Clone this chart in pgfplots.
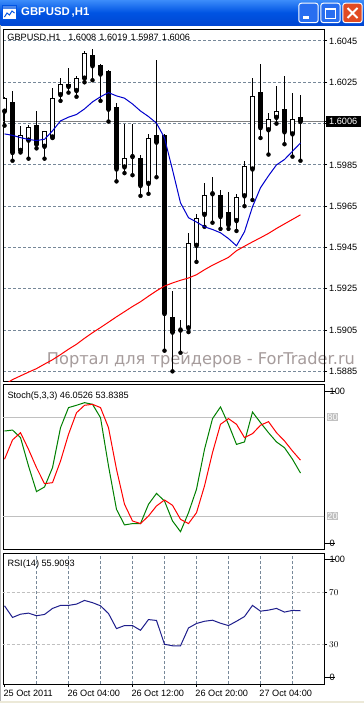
\documentclass[border=0pt]{standalone}
\usepackage{graphicx}
\usepackage{pgfplots}
\pgfplotsset{compat=1.18}
\usepackage{pgfplotstable}
\usepackage{fontspec}
\setmainfont{Liberation Sans}
\newfontfamily\wmfont{DejaVu Sans}
\definecolor{gridcol}{RGB}{119,136,153}
\definecolor{silv}{RGB}{192,192,192}
\definecolor{mablue}{RGB}{0,0,205}
\definecolor{stgreen}{RGB}{0,128,0}
\definecolor{rsiblue}{RGB}{30,30,140}
\definecolor{bidgray}{RGB}{128,128,128}
\definecolor{tbtop}{RGB}{60,140,250}
\definecolor{tbmid}{RGB}{0,84,227}
\definecolor{tbbot}{RGB}{0,70,210}
\definecolor{btnblue}{RGB}{40,110,240}
\definecolor{btnred}{RGB}{225,75,35}
\definecolor{xpbeige}{RGB}{236,233,216}
\definecolor{wmcol}{RGB}{166,156,156}
\newcommand\mtfont{\fontsize{9.2}{11}\selectfont}

% hourly candles, GBPUSD H1 (k = bar index, 0 = 25 Oct 2011 20:00)
\pgfplotstableread{
k O H L C
0 1.6011 1.6018 1.6004 1.6017
2 1.5992 1.6004 1.5991 1.5999
3 1.5997 1.60045 1.5988 1.6003
5 1.5994 1.6001 1.5988 1.6001
6 1.59985 1.6022 1.5998 1.6017
7 1.6019 1.6027 1.6016 1.6024
8 1.6023 1.6032 1.6020 1.6024
9 1.6021 1.6028 1.6018 1.6027
10 1.6027 1.6040 1.6025 1.6039
15 1.5984 1.6005 1.5981 1.5988
16 1.5989 1.6005 1.5980 1.5989
18 1.5976 1.6000 1.5971 1.5998
22 1.5905 1.5910 1.5894 1.5905
23 1.5906 1.5952 1.5904 1.5947
24 1.5946 1.5961 1.5938 1.5959
25 1.5961 1.5976 1.5955 1.5970
26 1.5971 1.5979 1.5957 1.5971
29 1.5958 1.5971 1.5953 1.5969
30 1.5970 1.5987 1.5965 1.5984
31 1.5983 1.6027 1.5968 1.6018
33 1.6002 1.6010 1.5990 1.6007
34 1.6008 1.6023 1.6005 1.6011
36 1.6000 1.6020 1.5989 1.6007
}\bulltab

\pgfplotstableread{
k O H L C
1 1.6015 1.6021 1.5987 1.5991
4 1.6004 1.6011 1.5993 1.5995
11 1.6038 1.6041 1.6026 1.6033
12 1.6033 1.6034 1.6016 1.6029
13 1.6030 1.6031 1.6006 1.6012
14 1.6013 1.6015 1.5977 1.5983
17 1.5988 1.5990 1.5970 1.5975
19 1.5999 1.6036 1.5979 1.5996
20 1.5999 1.6000 1.5895 1.5913
21 1.5911 1.5924 1.5885 1.5904
27 1.5970 1.5973 1.5954 1.5960
28 1.5962 1.5972 1.5954 1.5956
32 1.6020 1.6034 1.5998 1.6003
35 1.6012 1.6028 1.5995 1.6001
37 1.6008 1.6019 1.5987 1.6006
}\beartab

\pgfplotstableread{
k blue red
0 1.60000 1.58785
1 1.59993 1.58810
2 1.59982 1.58828
3 1.59973 1.58846
4 1.59968 1.58863
5 1.59974 1.58885
6 1.60015 1.58906
7 1.60063 1.58931
8 1.60081 1.58957
9 1.60094 1.58981
10 1.60121 1.59010
11 1.60155 1.59037
12 1.60180 1.59062
13 1.60200 1.59088
14 1.60184 1.59114
15 1.60173 1.59139
16 1.60145 1.59164
17 1.60111 1.59187
18 1.60084 1.59214
19 1.60052 1.59240
20 1.59981 1.59263
21 1.59826 1.59278
22 1.59666 1.59291
23 1.59594 1.59302
24 1.59573 1.59318
25 1.59550 1.59342
26 1.59537 1.59364
27 1.59521 1.59383
28 1.59493 1.59402
29 1.59458 1.59434
30 1.59526 1.59456
31 1.59647 1.59477
32 1.59739 1.59497
33 1.59797 1.59518
34 1.59850 1.59542
35 1.59876 1.59564
36 1.59916 1.59586
37 1.59956 1.59608
}\matable

\pgfplotstableread{
k main signal
0 71.5 54.4
1 72.1 66.1
2 67.5 70.5
3 50.3 60.4
4 34.8 49.3
5 37.6 39.6
6 49.3 40.2
7 73.5 53.3
8 85.7 69.5
9 87.1 82.6
10 88.7 87.1
11 87.7 87.7
12 79.6 85.7
13 50.3 73.5
14 24.0 48.3
15 14.6 27.1
16 15.4 17.0
17 15.4 15.4
18 27.1 20.0
19 33.7 26.1
20 29.1 29.7
21 17.0 26.5
22 10.5 18.0
23 22.0 15.4
24 36.2 22.0
25 60.4 38.2
26 79.0 58.4
27 86.1 75.6
28 75.6 79.0
29 63.4 75.6
30 64.9 67.5
31 83.0 69.9
32 76.6 75.0
33 70.5 77.2
34 64.9 70.5
35 61.4 65.5
36 54.4 59.4
37 46.05 53.84
}\sttable

\pgfplotstableread{
k rsi
0 59.7
1 50.8
2 53.3
3 54.1
4 52.1
5 53.1
6 57.7
7 60.0
8 60.0
9 61.0
10 63.8
11 62.1
12 59.7
13 53.8
14 42.3
15 44.6
16 44.6
17 41.0
18 49.2
19 48.5
20 30.3
21 29.2
22 29.2
23 42.8
24 46.2
25 47.9
26 48.7
27 46.4
28 44.6
29 47.9
30 51.5
31 60.0
32 55.6
33 56.4
34 57.7
35 54.9
36 56.2
37 55.91
}\rsitable

\pgfplotsset{mt/.style={scale only axis, width=321bp, xmin=-0.19, xmax=39.94,
  axis line style={black, line width=1bp}, tick style={black, line width=1bp},
  tick align=outside, major tick length=3bp, minor tick length=0pt,
  xtick pos=left, ytick pos=right,
  minor xtick={4,8,...,36}, xminorgrids,
  minor grid style={gridcol, dash pattern=on 3bp off 2bp, line width=1bp},
  major grid style={gridcol, dash pattern=on 3bp off 2bp, line width=1bp},
  ticklabel style={font=\mtfont},
  yticklabel style={anchor=west, inner sep=0pt, xshift=2bp},
  clip mode=individual},
  candle/.style={forget plot, only marks, mark=none,
    error bars/.cd, y dir=plus, y explicit, error mark=none,
    error bar style={#1}}}

\begin{document}
\begin{tikzpicture}
\useasboundingbox (0,0) rectangle (364bp,-703bp);
\begin{scope}[x=1bp,y=1bp]
\fill[white] (0,0) rectangle (364,-703);
\shade[top color=tbtop, bottom color=tbbot, middle color=tbmid] (0,0) rectangle (364,-25);
% icon
\fill[white] (2.5,-5.5) rectangle (16.5,-19.5);
\fill[tbmid!70] (2.5,-5.5) rectangle (16.5,-8.5);
\draw[tbmid, line width=0.8bp] (2.5,-5.5) rectangle (16.5,-19.5);
\draw[tbmid, line width=1bp] (4.5,-17) -- (7,-13) -- (9.5,-15) -- (12,-11) -- (14.5,-13);
\node[anchor=base west, inner sep=0pt, text=white, font=\fontsize{11.4}{13}\selectfont\bfseries] at (21,-15.7) {GBPUSD\,,H1};
% buttons
\draw[white, line width=1bp, fill=btnblue, rounded corners=2.5bp] (298.8,-3.2) rectangle (318.2,-22.6);
\fill[white] (302.5,-15.5) rectangle (309,-18.5);
\draw[white, line width=1bp, fill=btnblue, rounded corners=2.5bp] (320.8,-3.2) rectangle (340.2,-22.6);
\draw[white, line width=1bp] (325.5,-8.5) rectangle (335.5,-18.5);
\draw[white, line width=2bp] (325.5,-9) -- (335.5,-9);
\draw[white, line width=1bp, fill=btnred, rounded corners=2.5bp] (342.8,-3.2) rectangle (362.2,-22.6);
\draw[white, line width=2bp] (347.5,-8) -- (357.5,-18) (357.5,-8) -- (347.5,-18);
\draw[gray!60, line width=1bp] (0.5,-25) -- (0.5,-700.5);
\fill[xpbeige] (0,-700.5) rectangle (364,-703);
% watermark
\node[anchor=base west, inner sep=0pt, text=wmcol] at (46.7,-364.6) {\resizebox{308bp}{!}{\wmfont Портал для трейдеров - ForTrader.ru}};
\end{scope}

% ---------------- main price chart (plot unit: pips above 1.5800)
\begin{axis}[mt, at={(3bp,-381bp)}, anchor=south west, height=352bp,
  ymin=80.31, ymax=250.81, xtick=\empty,
  ytick={85,105,125,145,165,185,205,225,245},
  yticklabels={1.5885,1.5905,1.5925,1.5945,1.5965,1.5985,,1.6025,1.6045},
  ymajorgrids,
  extra y ticks={206}, extra y tick labels={1.6006},
  extra y tick style={major grid style={solid, bidgray, line width=1bp},
     yticklabel style={fill=black, text=white, inner xsep=3.6bp, inner ysep=1.8bp, xshift=-3.6bp}},
]
% wicks
\addplot[candle={black, line width=1bp}] table[x=k, y expr=\thisrow{L}*10000-15800, y error plus expr=(\thisrow{H}-\thisrow{L})*10000] {\bulltab};
\addplot[candle={black, line width=1bp}] table[x=k, y expr=\thisrow{L}*10000-15800, y error plus expr=(\thisrow{H}-\thisrow{L})*10000] {\beartab};
% bear bodies
\addplot[candle={black, line width=5bp}] table[x=k, y expr=\thisrow{C}*10000-15800-0.242, y error plus expr=(\thisrow{O}-\thisrow{C})*10000+0.484] {\beartab};
% bull bodies: black outline then white inside
\addplot[candle={black, line width=5bp}] table[x=k, y expr=\thisrow{O}*10000-15800-0.242, y error plus expr=(\thisrow{C}-\thisrow{O})*10000+0.484] {\bulltab};
\addplot[candle={white, line width=3bp}] table[x=k, y expr=\thisrow{O}*10000-15800+0.242, y error plus expr={max((\thisrow{C}-\thisrow{O})*10000-0.484,0)}] {\bulltab};
% moving averages
\addplot[mablue, line width=1bp] table[x=k, y expr=\thisrow{blue}*10000-15800] {\matable};
\addplot[red, line width=1bp] table[x=k, y expr=\thisrow{red}*10000-15800] {\matable};
\node[anchor=base west, inner sep=0pt, font=\mtfont] at ([xshift=4.3bp, yshift=-11.7bp]rel axis cs:0,1) {GBPUSD,H1\hspace{7.8bp}1.6008\hspace{3.2bp}1.6019\hspace{3.2bp}1.5987\hspace{3.2bp}1.6006};
\end{axis}

% ---------------- stochastic
\begin{axis}[mt, at={(3bp,-549bp)}, anchor=south west, height=165bp,
  ymin=0, ymax=100, xtick=\empty, ytick=\empty]
\addplot[silv, line width=1bp] coordinates {(-1,80) (41,80)};
\addplot[silv, line width=1bp] coordinates {(-1,20) (41,20)};
\addplot[stgreen, line width=1bp] table[x=k, y=main] {\sttable};
\addplot[red, line width=1bp] table[x=k, y=signal] {\sttable};
\node[anchor=base west, inner sep=0pt, font=\mtfont] at ([xshift=4.3bp, yshift=-14.3bp]rel axis cs:0,1) {Stoch(5,3,3) 46.0526 53.8385};
\node[anchor=north west, inner sep=0pt, font=\mtfont] at ([xshift=5.5bp, yshift=-4.2bp]rel axis cs:1,1) {100};
\node[anchor=south west, inner sep=0pt, font=\mtfont] at ([xshift=5.5bp, yshift=2.4bp]rel axis cs:1,0) {0};
\draw[black, line width=1bp] ([yshift=-7.6bp]rel axis cs:1,1) -- ++(3bp,0);
\draw[black, line width=1bp] ([yshift=5.7bp]rel axis cs:1,0) -- ++(3bp,0);
\node[anchor=west, fill=silv, text=white, inner xsep=0.6bp, inner ysep=1.2bp, font=\mtfont] at ([xshift=2.6bp]axis cs:39.94,80) {80};
\node[anchor=west, fill=silv, text=white, inner xsep=0.6bp, inner ysep=1.2bp, font=\mtfont] at ([xshift=2.6bp]axis cs:39.94,20) {20};
\end{axis}

% ---------------- RSI
\begin{axis}[mt, at={(3bp,-684bp)}, anchor=south west, height=131bp,
  ymin=0, ymax=100,
  xtick={0,8,16,24,32},
  xticklabels={25 Oct 2011,26 Oct 04:00,26 Oct 12:00,26 Oct 20:00,27 Oct 04:00},
  xticklabel style={anchor=north west, inner sep=0pt, xshift=-1.2bp, yshift=-3bp},
  ytick={30,70}]
\addplot[silv, line width=1bp, dash pattern=on 3bp off 2bp] coordinates {(-1,70) (41,70)};
\addplot[silv, line width=1bp, dash pattern=on 3bp off 2bp] coordinates {(-1,30) (41,30)};
\addplot[rsiblue, line width=1bp] table[x=k, y=rsi] {\rsitable};
\node[anchor=base west, inner sep=0pt, font=\mtfont] at ([xshift=4.3bp, yshift=-13.3bp]rel axis cs:0,1) {RSI(14) 55.9093};
\node[anchor=north west, inner sep=0pt, font=\mtfont] at ([xshift=5.5bp, yshift=-3bp]rel axis cs:1,1) {100};
\node[anchor=south west, inner sep=0pt, font=\mtfont] at ([xshift=5.5bp, yshift=3bp]rel axis cs:1,0) {0};
\draw[black, line width=1bp] ([yshift=-6.3bp]rel axis cs:1,1) -- ++(3bp,0);
\draw[black, line width=1bp] ([yshift=6.3bp]rel axis cs:1,0) -- ++(3bp,0);
\end{axis}
\end{tikzpicture}
\end{document}
